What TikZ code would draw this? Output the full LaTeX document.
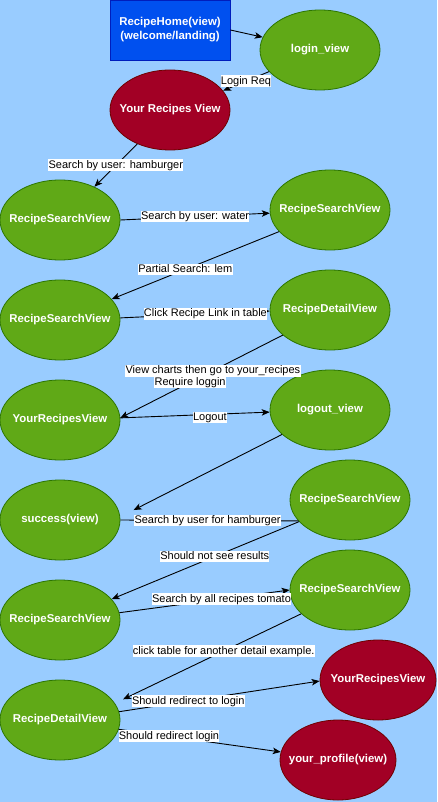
\documentclass[tikz,border=0pt]{standalone}
\usepackage{fontspec}
\setmainfont{Liberation Sans}
\usetikzlibrary{shapes.geometric,arrows.meta}
\definecolor{bg}{HTML}{99CCFF}
\definecolor{gfill}{HTML}{60A917}
\definecolor{gline}{HTML}{2D7600}
\definecolor{rfill}{HTML}{A20025}
\definecolor{rline}{HTML}{6F0000}
\definecolor{bfill}{HTML}{0050EF}
\definecolor{bline}{HTML}{001DBC}
\begin{document}
\begin{tikzpicture}[x=1pt,y=-1pt,
  nodetext/.style={font=\fontsize{11.4}{14}\selectfont\bfseries, text=white, align=center},
  gview/.style={ellipse, draw=gline, fill=gfill, line width=0.8pt, minimum width=120pt, minimum height=80pt, inner sep=0pt, nodetext},
  rview/.style={ellipse, draw=rline, fill=rfill, line width=0.8pt, minimum width=116pt, minimum height=80pt, inner sep=0pt, nodetext},
  bview/.style={rectangle, draw=bline, fill=bfill, line width=0.8pt, minimum width=120pt, minimum height=60pt, inner sep=0pt, nodetext},
  lbl/.style={fill=white, font=\fontsize{11}{13}\selectfont, inner xsep=0.3pt, inner ysep=0.3pt, text height=8.6pt, text depth=2.6pt, text=black},
  arr/.style={draw=black, line width=0.9pt, -{Stealth[length=8pt,width=6.5pt,inset=2pt]}},
  link/.style={draw=black, line width=0.9pt}
]
\fill[bg] (0,0) rectangle (437,802);
\useasboundingbox (0,0) rectangle (437,802);

\node[bview] (home) at (170,30) {RecipeHome(view)\\(welcome/landing)};
\node[gview] (login) at (320,50) {\makebox[0pt]{login\_view}};
\node[rview, minimum width=120pt] (yrv) at (170,110) {\makebox[0pt]{Your Recipes View}};
\node[gview] (rs1) at (60,220) {\makebox[0pt]{RecipeSearchView}};
\node[gview] (rs2) at (330,210) {\makebox[0pt]{RecipeSearchView}};
\node[gview] (rs3) at (60,320) {\makebox[0pt]{RecipeSearchView}};
\node[gview] (rd) at (330,310) {\makebox[0pt]{RecipeDetailView}};
\node[gview] (yr) at (60,420) {\makebox[0pt]{YourRecipesView}};
\node[gview] (logout) at (330,410) {\makebox[0pt]{logout\_view}};
\node[gview] (success) at (60,520) {\makebox[0pt]{success(view)}};
\node[gview] (rs4) at (350,500) {\makebox[0pt]{RecipeSearchView}};
\node[gview] (rs5) at (60,620) {\makebox[0pt]{RecipeSearchView}};
\node[gview] (rs6) at (350,590) {\makebox[0pt]{RecipeSearchView}};
\node[gview] (rd2) at (60,720) {\makebox[0pt]{RecipeDetailView}};
\node[rview] (yrr) at (378,680) {\makebox[0pt]{YourRecipesView}};
\node[rview] (prof) at (338,760) {\makebox[0pt]{your\_profile(view)}};

\draw[arr] (home.east) -- (login);
\draw[arr] (login.203) -- node[lbl, pos=0.5] {Login Req} (yrv.20);
\draw[arr] (yrv.226) -- node[lbl, pos=0.5] {Search by user: hamburger} (rs1.44);
\draw[arr] (rs1.east) -- node[lbl, pos=0.5] {Search by user: water} (rs2.183);
\draw[arr] (rs2.203) -- node[lbl, pos=0.56] {Partial Search: lem} (rs3.22.5);
\draw[arr] (rs3.2) -- node[lbl, pos=0.57] {Click Recipe Link in table} (rd.181);
\draw[arr] (rd.208) -- node[lbl, pos=0.43] {View charts then go to your\_recipes}
  node[lbl, pos=0.57] {Require loggin} (yr.2);
\draw[arr] (yr.2) -- node[lbl, pos=0.6, yshift=-3pt] {Logout} (logout.182);
\draw[arr, shorten >=15pt] (logout.207.5) -- (success.3);
\draw[link] (success.east) -- node[lbl, pos=0.49] {Search by user for hamburger} (rs4.202);
\draw[arr] (rs4.203) -- node[lbl, pos=0.45] {Should not see results} (rs5.22.5);
\draw[arr] (rs5.7) -- node[lbl, pos=0.6] {Search by all recipes tomato} (rs6.west);
\draw[arr, shorten >=9pt] (rs6.206) -- node[lbl, pos=0.416] {click table for another detail example.} (rd2.17.6);
\draw[arr] (rd2.8.5) -- node[lbl, pos=0.345] {Should redirect to login} (yrr.181);
\draw[arr] (rd2.351) -- node[lbl, pos=0.31] {Should redirect login} (prof.172);
\end{tikzpicture}
\end{document}
